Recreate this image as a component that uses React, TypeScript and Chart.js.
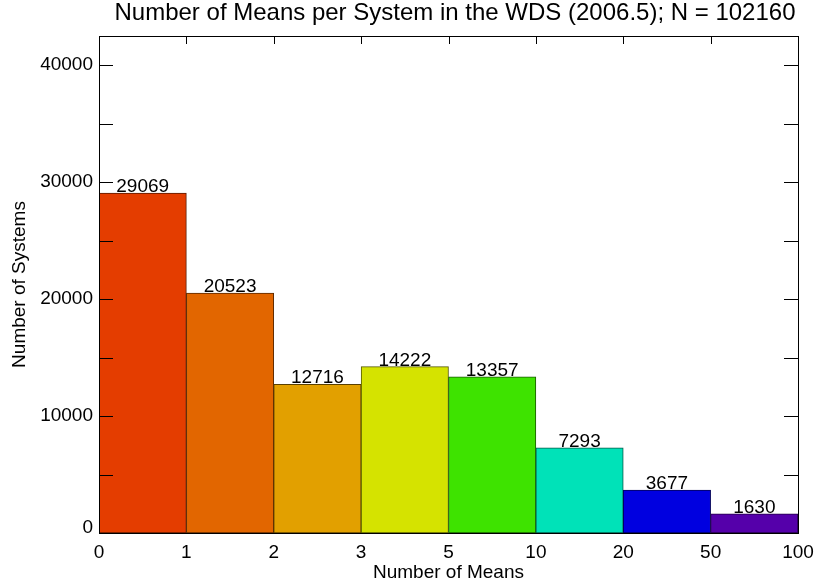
import React, { useEffect, useRef } from "react";
import { Chart, registerables } from "chart.js";

Chart.register(...registerables);

const binEdges: string[] = ["0", "1", "2", "3", "5", "10", "20", "50", "100"];
const counts: number[] = [29069, 20523, 12716, 14222, 13357, 7293, 3677, 1630];
const barColors: string[] = ["#E43D00", "#E26600", "#E2A000", "#D5E300", "#3EE300", "#00E2B8", "#0000E0", "#5500AA"];
const borderColors: string[] = ["#5A1A00", "#5A2800", "#5A4000", "#555A00", "#185A00", "#005A48", "#00005A", "#220044"];
const yTickLabels: number[] = [0, 10000, 20000, 30000, 40000];
const yMinorStep = 5000;
const yMax = 42500;
const titleText = "Number of Means per System in the WDS (2006.5); N = 102160";
const xTitle = "Number of Means";
const yTitle = "Number of Systems";

const FONT = "'Liberation Sans', Arial, Helvetica, sans-serif";

const idlPlugin = {
  id: "idlAxes",
  afterDraw(chart: any) {
    const ctx = chart.ctx as CanvasRenderingContext2D;
    const { left, right, top, bottom } = chart.chartArea;
    const xs = chart.scales.x;
    const ys = chart.scales.y;
    ctx.save();
    // frame
    ctx.strokeStyle = "#000";
    ctx.lineWidth = 1;
    ctx.strokeRect(Math.round(left) + 0.5, Math.round(top) + 0.5, Math.round(right - left), Math.round(bottom - top));
    // y ticks both sides
    ctx.beginPath();
    for (let v = 0; v <= yMax; v += yMinorStep) {
      const py = Math.round(ys.getPixelForValue(v)) + 0.5;
      ctx.moveTo(left, py);
      ctx.lineTo(left + 14, py);
      ctx.moveTo(right, py);
      ctx.lineTo(right - 14, py);
    }
    // top ticks at bin edges
    for (let i = 1; i < binEdges.length - 1; i++) {
      const px = Math.round(xs.getPixelForValue(i)) + 0.5;
      ctx.moveTo(px, top);
      ctx.lineTo(px, top + 8);
    }
    ctx.stroke();

    ctx.fillStyle = "#000";
    // y labels
    ctx.font = `19px ${FONT}`;
    ctx.textAlign = "right";
    ctx.textBaseline = "middle";
    yTickLabels.forEach((v) => {
      const py = ys.getPixelForValue(v);
      if (v === 0) {
        ctx.textBaseline = "alphabetic";
        ctx.fillText(String(v), left - 6, py);
        ctx.textBaseline = "middle";
      } else {
        ctx.fillText(String(v), left - 6, py);
      }
    });
    // x labels
    ctx.textAlign = "center";
    ctx.textBaseline = "alphabetic";
    binEdges.forEach((lab, i) => {
      ctx.fillText(lab, xs.getPixelForValue(i), bottom + 25);
    });
    // bar value labels
    counts.forEach((c, i) => {
      ctx.fillText(String(c), xs.getPixelForValue(i + 0.5), ys.getPixelForValue(c) - 1);
    });
    // x title
    ctx.fillText(xTitle, (left + right) / 2, 578);
    // y title
    ctx.save();
    ctx.translate(25, (top + bottom) / 2);
    ctx.rotate(-Math.PI / 2);
    ctx.fillText(yTitle, 0, 0);
    ctx.restore();
    // title
    ctx.font = `24px ${FONT}`;
    ctx.fillText(titleText, 455, 20);
    ctx.restore();
  },
};

export default function App() {
  const ref = useRef<HTMLCanvasElement | null>(null);
  useEffect(() => {
    if (!ref.current) return;
    const chart = new Chart(ref.current, {
      type: "bar",
      data: {
        datasets: [
          {
            data: counts.map((c, i) => ({ x: i + 0.5, y: c })),
            backgroundColor: barColors,
            borderColor: borderColors,
            borderWidth: 1,
            borderSkipped: false,
            barPercentage: 1,
            categoryPercentage: 1,
          },
        ],
      },
      options: {
        animation: false,
        responsive: false,
        maintainAspectRatio: false,
        layout: { padding: { left: 99, right: 18, top: 36, bottom: 51 } },
        plugins: { legend: { display: false }, tooltip: { enabled: false }, title: { display: false } },
        scales: {
          x: { type: "linear", min: 0, max: 8, display: false, offset: false },
          y: { min: 0, max: yMax, display: false },
        },
      },
      plugins: [idlPlugin],
    });
    return () => chart.destroy();
  }, []);
  return (
    <div style={{ position: "fixed", left: 0, top: 0, width: 816, height: 584, background: "#fff" }}>
      <canvas ref={ref} width={816} height={584} />
    </div>
  );
}
